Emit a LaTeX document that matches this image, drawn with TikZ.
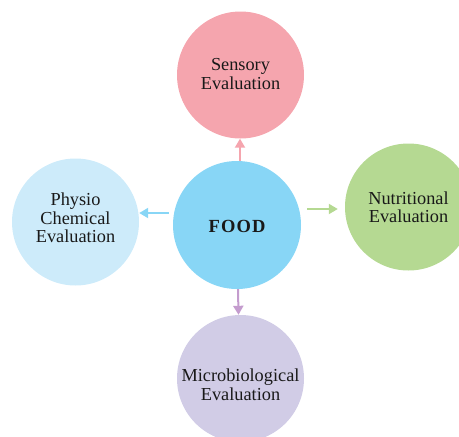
\documentclass[tikz,border=0pt]{standalone}
\usepackage{fontspec}
\setmainfont{Liberation Serif}
\usetikzlibrary{arrows.meta}
\definecolor{senc}{HTML}{F5A5AE}
\definecolor{foodc}{HTML}{88D6F6}
\definecolor{physc}{HTML}{CDEBFA}
\definecolor{nutc}{HTML}{B5D992}
\definecolor{micc}{HTML}{D1CCE6}
\definecolor{purc}{HTML}{C49CCE}
\tikzset{
  bubble/.style={circle, minimum size=127pt, inner sep=0pt},
  btext/.style={align=center, text=black!90, font=\fontsize{18.3}{18.5}\selectfont},
  arr/.style={draw=#1, line width=2pt, -{Triangle[length=9pt,width=10pt,fill=#1]}}
}
\begin{document}
\begin{tikzpicture}[x=1pt,y=-1pt]
\useasboundingbox (0,0) rectangle (459,437);
\node[bubble, fill=senc] (sens) at (240.5,75) {};
\node[bubble, fill=foodc, minimum size=128pt] (food) at (237,225) {};
\node[bubble, fill=physc] (phys) at (75.5,222) {};
\node[bubble, fill=nutc] (nut) at (408.5,207) {};
\node[bubble, fill=micc] (mic) at (240.5,378.5) {};
\node[btext] (sensT) at ([yshift=1pt]sens.center) {Sensory\\Evaluation};
\node[btext, font=\fontsize{18.5}{20}\selectfont\bfseries\addfontfeature{LetterSpace=6}] (foodT) at ([yshift=-1pt]food.center) {FOOD};
\node[btext] (physT) at ([yshift=4pt]phys.center) {Physio\\Chemical\\Evaluation};
\node[btext] (nutT) at ([yshift=0pt]nut.center) {Nutritional\\Evaluation};
\node[btext] (micT) at ([yshift=-6pt]mic.center) {Microbiological\\Evaluation};
\draw[arr=senc] ([xshift=3pt]food.north) -- ([xshift=-0.5pt]sens.south);
\draw[arr=foodc] ([yshift=12pt,xshift=-4pt]food.west) -- ([yshift=9pt]phys.east);
\draw[arr=nutc] ([yshift=16pt,xshift=6pt]food.east) -- ([yshift=-2pt,xshift=-7pt]nut.west);
\draw[arr=purc] ([xshift=1pt]food.south) -- ([xshift=-2pt]mic.north);
\end{tikzpicture}
\end{document}
